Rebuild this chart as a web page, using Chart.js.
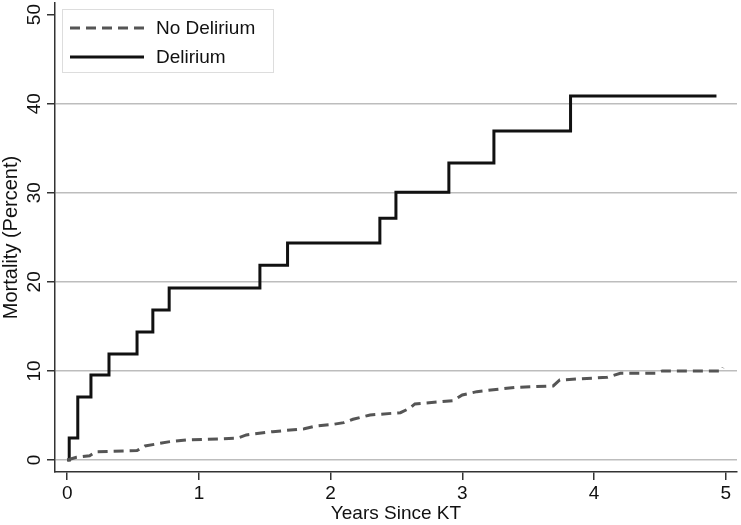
<!DOCTYPE html>
<html>
<head>
<meta charset="utf-8">
<script src="https://cdn.jsdelivr.net/npm/chart.js@4"></script>
<style>
  body { margin: 0; background: #fff; }
  #wrap { width: 741px; height: 525px; }
</style>
</head>
<body>
<div id="wrap"><canvas id="kmChart" width="741" height="525"></canvas></div>
<script>
// (years since KT, cumulative mortality %)
const deliriumYears = [0, 0.015, 0.08, 0.18, 0.317, 0.53, 0.65, 0.774, 1.463, 1.673, 2.374, 2.496, 2.898, 3.24, 3.822, 4.93];
const deliriumMortality = [0, 2.47, 7.07, 9.54, 11.9, 14.37, 16.84, 19.31, 21.86, 24.37, 27.14, 30.06, 33.35, 36.94, 40.87, 40.87];

const noDeliriumYears = [0, 0.07, 0.17, 0.22, 0.53, 0.59, 0.68, 0.78, 0.91, 1.29, 1.36, 1.56, 1.8, 1.89, 2.02, 2.1, 2.17, 2.3, 2.53, 2.6, 2.64, 2.93, 3.0, 3.11, 3.41, 3.69, 3.74, 4.1, 4.2, 4.47, 4.52, 4.97, 4.98];
const noDeliriumMortality = [0, 0.3, 0.48, 0.93, 1.05, 1.57, 1.8, 2.06, 2.25, 2.44, 2.81, 3.18, 3.5, 3.82, 4.0, 4.19, 4.57, 5.05, 5.31, 5.8, 6.29, 6.66, 7.3, 7.67, 8.16, 8.31, 8.98, 9.28, 9.73, 9.73, 10.0, 10.0, 10.36];

const seriesLabels = ['No Delirium', 'Delirium'];
const yTickValues = [0, 10, 20, 30, 40, 50];
const xTickValues = [0, 1, 2, 3, 4, 5];

const FONT = 'Liberation Sans, Arial, Helvetica, sans-serif';

function pts(xs, ys) {
  return xs.map((x, i) => ({ x: x, y: ys[i] }));
}

// y labels are turned on their side, legend sits inside the plot
const stataBits = {
  id: 'stataBits',
  afterDraw(chart) {
    const ctx = chart.ctx;
    const ys = chart.scales.y;
    ctx.save();
    ctx.fillStyle = '#111';
    ctx.font = '19px ' + FONT;
    ctx.textAlign = 'center';
    ctx.textBaseline = 'middle';
    yTickValues.forEach(v => {
      const py = ys.getPixelForValue(v);
      ctx.save();
      ctx.translate(35, py);
      ctx.rotate(-Math.PI / 2);
      ctx.fillText(String(v), 0, 0);
      ctx.restore();
    });

    // legend
    ctx.fillStyle = '#fff';
    ctx.fillRect(62, 9, 211, 63);
    ctx.strokeStyle = '#ddd';
    ctx.lineWidth = 1;
    ctx.strokeRect(62.5, 9.5, 211, 63);
    const rows = [28, 57];
    chart.data.datasets.forEach((ds, i) => {
      ctx.beginPath();
      ctx.setLineDash(ds.borderDash || []);
      ctx.strokeStyle = ds.borderColor;
      ctx.lineWidth = ds.borderWidth;
      ctx.moveTo(70, rows[i]);
      ctx.lineTo(144, rows[i]);
      ctx.stroke();
      ctx.setLineDash([]);
      ctx.fillStyle = '#111';
      ctx.textAlign = 'left';
      ctx.fillText(ds.label, 156, rows[i] + 1);
    });
    ctx.restore();
  }
};

const config = {
  type: 'line',
  data: {
    datasets: [{
      label: seriesLabels[0],
      data: pts(noDeliriumYears, noDeliriumMortality),
      borderColor: '#555',
      borderWidth: 3,
      borderDash: [10, 6],
      pointRadius: 0,
      tension: 0
    }, {
      label: seriesLabels[1],
      data: pts(deliriumYears, deliriumMortality),
      borderColor: '#111',
      borderWidth: 3,
      stepped: true,
      pointRadius: 0,
      tension: 0
    }]
  },
  options: {
    responsive: false,
    animation: false,
    layout: { padding: { top: 3, right: 4, left: 0, bottom: 0 } },
    plugins: {
      legend: { display: false },
      tooltip: { enabled: false }
    },
    scales: {
      x: {
        type: 'linear',
        min: -0.093,
        max: 5.086,
        afterFit(s) { s.height = 53; },
        afterBuildTicks(s) { s.ticks = xTickValues.map(v => ({ value: v })); },
        grid: { drawOnChartArea: false, drawTicks: true, tickLength: 8, tickColor: '#333', lineWidth: 1.5 },
        border: { color: '#333', width: 1.5 },
        ticks: { color: '#111', font: { family: FONT, size: 19 }, padding: 2, maxRotation: 0 },
        title: { display: true, text: 'Years Since KT', color: '#111', font: { family: FONT, size: 19 }, padding: { top: -4, bottom: 0 } }
      },
      y: {
        type: 'linear',
        min: -1.35,
        max: 51.3,
        afterFit(s) { s.width = 55; },
        afterBuildTicks(s) { s.ticks = yTickValues.map(v => ({ value: v })); },
        grid: {
          color: c => (c.tick && c.tick.value === 50) ? 'rgba(0,0,0,0)' : '#bdbdbd',
          tickColor: '#333',
          lineWidth: 1.5,
          tickLength: 8
        },
        border: { color: '#333', width: 1.5 },
        ticks: { display: false },
        title: { display: true, text: 'Mortality (Percent)', color: '#111', font: { family: FONT, size: 20 }, padding: { top: -1, bottom: 0 } }
      }
    }
  },
  plugins: [stataBits]
};

const myChart = new Chart(document.getElementById('kmChart'), config);
</script>
</body>
</html>
